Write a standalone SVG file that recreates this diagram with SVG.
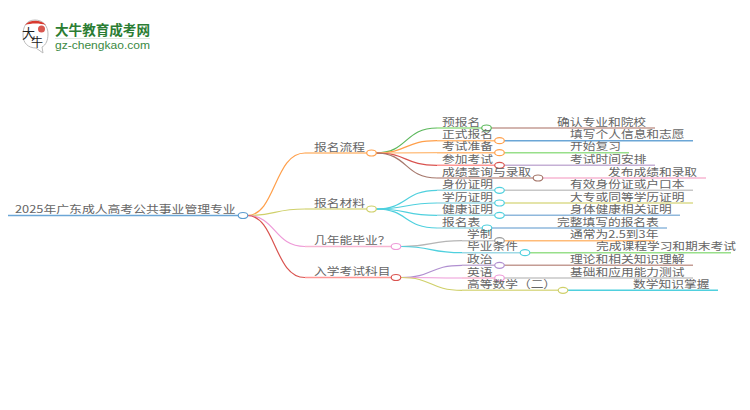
<svg xmlns="http://www.w3.org/2000/svg" width="750" height="410" viewBox="0 0 750 410">
<style>
text{font-family:"Noto Sans CJK SC","Liberation Sans",sans-serif;font-size:10.8px;fill:#666}
.c{fill:none;stroke-width:1.2}
.u{fill:none;stroke-width:1.5}
.n{fill:#fff;stroke-width:1.2}
</style>
<rect width="750" height="410" fill="#fff"/>
<g id="logo">
<path d="M35 20C26 20 23 27 23 35C23 43 28 48 36 48L43 53L42 47C46 45 48 40 48 34C48 26 43 20 35 20Z" fill="#fff" stroke="#bbb" stroke-width="1"/>
<path d="M25 25C29 20 40 19 46 25C40 23 31 23 25 25Z" fill="#d8392f"/>
<circle cx="41.500" cy="29" r="3.500" fill="#d8574f"/>
<text x="22" y="38" style="font-size:13px;fill:#222;font-family:'Noto Sans CJK SC',serif">大</text>
<text x="31" y="47" style="font-size:12px;fill:#222;font-family:'Noto Sans CJK SC',serif">牛</text>
<text x="55" y="35" textLength="95" lengthAdjust="spacingAndGlyphs" style="font-size:13.500px;font-weight:700;fill:#2b7d33">大牛教育成考网</text>
<path d="M55 38.500H150" stroke="#dfe8df" stroke-width="1"/>
<text x="55" y="49" textLength="95" lengthAdjust="spacingAndGlyphs" style="font-size:11.500px;font-family:'Liberation Sans',sans-serif;fill:#3b8a43">gz-chengkao.com</text>
</g>
<g id="connectors">
<path class="c" stroke="#ff9f4a" d="M247 215.500C276 215.500 274 153 305 153"/>
<path class="c" stroke="#cfd06a" d="M247 215.500C276 215.500 274 209 305 209"/>
<path class="c" stroke="#ee9ad8" d="M247 215.500C276 215.500 274 246.500 305 246.500"/>
<path class="c" stroke="#d9534f" d="M247 215.500C276 215.500 274 277.500 305 277.500"/>
<path class="c" stroke="#5cb85c" d="M376 153C408 153 404 128 437 128"/>
<path class="c" stroke="#ff9f4a" d="M376 153C408 153 404 140.700 437 140.700"/>
<path class="c" stroke="#ffbb78" d="M376 153C408 153 404 152.700 437 152.700"/>
<path class="c" stroke="#d9534f" d="M376 153C408 153 404 165.300 437 165.300"/>
<path class="c" stroke="#a5776b" d="M376 153C408 153 404 178 437 178"/>
<path class="c" stroke="#4fd0de" d="M376 209C408 209 404 190.300 437 190.300"/>
<path class="c" stroke="#4fd0de" d="M376 209C408 209 404 203 437 203"/>
<path class="c" stroke="#4fd0de" d="M376 209C408 209 404 215.300 437 215.300"/>
<path class="c" stroke="#4fd0de" d="M376 209C408 209 404 228 437 228"/>
<path class="c" stroke="#b5b5b5" d="M401 246.500C433 246.500 429 240.700 462 240.700"/>
<path class="c" stroke="#4fd0de" d="M401 246.500C433 246.500 429 252.700 462 252.700"/>
<path class="c" stroke="#b08fd0" d="M401 277.500C433 277.500 429 265.300 462 265.300"/>
<path class="c" stroke="#ee9ad8" d="M401 277.500C433 277.500 429 278 462 278"/>
<path class="c" stroke="#cfd06a" d="M401 277.500C433 277.500 429 290.300 462 290.300"/>
</g>
<g id="root"><path class="u" stroke="#6ba6d6" d="M8 215.500H238"/><text transform="translate(15 213) scale(1.18 1)" textLength="187" lengthAdjust="spacingAndGlyphs">2025年广东成人高考公共事业管理专业</text><ellipse class="n" stroke="#5b9bd0" cx="243" cy="215.500" rx="4.800" ry="3"/></g>
<g id="n1"><path class="u" stroke="#ffbb78" d="M305 153H367"/><text transform="translate(314 150.500) scale(1.18 1)">报名流程</text><ellipse class="n" stroke="#ff9f4a" cx="371.500" cy="153" rx="4.800" ry="3"/></g>
<g id="n2"><path class="u" stroke="#dbdb8d" d="M305 209H367"/><text transform="translate(314 206.500) scale(1.18 1)">报名材料</text><ellipse class="n" stroke="#cfd06a" cx="371.500" cy="209" rx="4.800" ry="3"/></g>
<g id="n3"><path class="u" stroke="#f7b6d2" d="M305 246.500H392"/><text transform="translate(314 244) scale(1.18 1)">几年能毕业？</text><ellipse class="n" stroke="#ee9ad8" cx="396" cy="246.500" rx="4.800" ry="3"/></g>
<g id="n4"><path class="u" stroke="#ff9896" d="M305 277.500H392"/><text transform="translate(314 275) scale(1.18 1)">入学考试科目</text><ellipse class="n" stroke="#d9534f" cx="396" cy="277.500" rx="4.800" ry="3"/></g>
<g id="n11"><path class="u" stroke="#98df8a" d="M437 128H482"/><path class="u" stroke="#c49c94" d="M491 128H655"/><text transform="translate(442 125.500) scale(1.18 1)">预报名</text><text transform="translate(557 125.500) scale(1.18 1)">确认专业和院校</text><ellipse class="n" stroke="#5cb85c" cx="486.500" cy="128" rx="4.800" ry="3"/></g>
<g id="n12"><path class="u" stroke="#ffbb78" d="M437 140.700H495"/><path class="u" stroke="#6ba6d6" d="M504 140.700H693"/><text transform="translate(442 138.200) scale(1.18 1)">正式报名</text><text transform="translate(570 138.200) scale(1.18 1)">填写个人信息和志愿</text><ellipse class="n" stroke="#ff9f4a" cx="499.500" cy="140.700" rx="4.800" ry="3"/></g>
<g id="n13"><path class="u" stroke="#ffbb78" d="M437 152.700H495"/><path class="u" stroke="#98df8a" d="M504 152.700H629"/><text transform="translate(442 150.200) scale(1.18 1)">考试准备</text><text transform="translate(570 150.200) scale(1.18 1)">开始复习</text><ellipse class="n" stroke="#ff9f4a" cx="499.500" cy="152.700" rx="4.800" ry="3"/></g>
<g id="n14"><path class="u" stroke="#ff9896" d="M437 165.300H495"/><path class="u" stroke="#c5b0d5" d="M504 165.300H655"/><text transform="translate(442 162.800) scale(1.18 1)">参加考试</text><text transform="translate(570 162.800) scale(1.18 1)">考试时间安排</text><ellipse class="n" stroke="#d9534f" cx="499.500" cy="165.300" rx="4.800" ry="3"/></g>
<g id="n15"><path class="u" stroke="#c49c94" d="M437 178H533"/><path class="u" stroke="#f7b6d2" d="M543 178H706"/><text transform="translate(442 175.500) scale(1.18 1)">成绩查询与录取</text><text transform="translate(608 175.500) scale(1.18 1)">发布成绩和录取</text><ellipse class="n" stroke="#a5776b" cx="538" cy="178" rx="4.800" ry="3"/></g>
<g id="n21"><path class="u" stroke="#9edae5" d="M437 190.300H495"/><path class="u" stroke="#c7c7c7" d="M504 190.300H693"/><text transform="translate(442 187.800) scale(1.18 1)">身份证明</text><text transform="translate(570 187.800) scale(1.18 1)">有效身份证或户口本</text><ellipse class="n" stroke="#4fd0de" cx="499.500" cy="190.300" rx="4.800" ry="3"/></g>
<g id="n22"><path class="u" stroke="#9edae5" d="M437 203H495"/><path class="u" stroke="#dbdb8d" d="M504 203H693"/><text transform="translate(442 200.500) scale(1.18 1)">学历证明</text><text transform="translate(570 200.500) scale(1.18 1)">大专或同等学历证明</text><ellipse class="n" stroke="#4fd0de" cx="499.500" cy="203" rx="4.800" ry="3"/></g>
<g id="n23"><path class="u" stroke="#9edae5" d="M437 215.300H495"/><path class="u" stroke="#8fb8dc" d="M504 215.300H680"/><text transform="translate(442 212.800) scale(1.18 1)">健康证明</text><text transform="translate(570 212.800) scale(1.18 1)">身体健康相关证明</text><ellipse class="n" stroke="#4fd0de" cx="499.500" cy="215.300" rx="4.800" ry="3"/></g>
<g id="n24"><path class="u" stroke="#9edae5" d="M437 228H482"/><path class="u" stroke="#8fb8dc" d="M492 228H667"/><text transform="translate(442 225.500) scale(1.18 1)">报名表</text><text transform="translate(557 225.500) scale(1.18 1)">完整填写的报名表</text><ellipse class="n" stroke="#4fd0de" cx="487" cy="228" rx="4.800" ry="3"/></g>
<g id="n31"><path class="u" stroke="#c7c7c7" d="M462 240.700H495"/><path class="u" stroke="#ffbb78" d="M504 240.700H655"/><text transform="translate(467 238.200) scale(1.18 1)">学制</text><text transform="translate(570 238.200) scale(1.18 1)">通常为2.5到3年</text><ellipse class="n" stroke="#999" cx="499.500" cy="240.700" rx="4.800" ry="3"/></g>
<g id="n32"><path class="u" stroke="#9edae5" d="M462 252.700H520"/><path class="u" stroke="#98df8a" d="M530 252.700H731"/><text transform="translate(467 250.200) scale(1.18 1)">毕业条件</text><text transform="translate(596 250.200) scale(1.18 1)">完成课程学习和期末考试</text><ellipse class="n" stroke="#4fd0de" cx="525" cy="252.700" rx="4.800" ry="3"/></g>
<g id="n41"><path class="u" stroke="#c5b0d5" d="M462 265.300H495"/><path class="u" stroke="#c49c94" d="M504 265.300H693"/><text transform="translate(467 262.800) scale(1.18 1)">政治</text><text transform="translate(570 262.800) scale(1.18 1)">理论和相关知识理解</text><ellipse class="n" stroke="#b08fd0" cx="499.500" cy="265.300" rx="4.800" ry="3"/></g>
<g id="n42"><path class="u" stroke="#f7b6d2" d="M462 278H495"/><path class="u" stroke="#c7c7c7" d="M504 278H693"/><text transform="translate(467 275.500) scale(1.18 1)">英语</text><text transform="translate(570 275.500) scale(1.18 1)">基础和应用能力测试</text><ellipse class="n" stroke="#ee9ad8" cx="499.500" cy="278" rx="4.800" ry="3"/></g>
<g id="n43"><path class="u" stroke="#dbdb8d" d="M462 290.300H558"/><path class="u" stroke="#4fd0de" d="M568 290.300H718"/><text transform="translate(467 287.800) scale(1.18 1)">高等数学（二）</text><text transform="translate(633 287.800) scale(1.18 1)">数学知识掌握</text><ellipse class="n" stroke="#cfd06a" cx="563" cy="290.300" rx="4.800" ry="3"/></g>
</svg>
